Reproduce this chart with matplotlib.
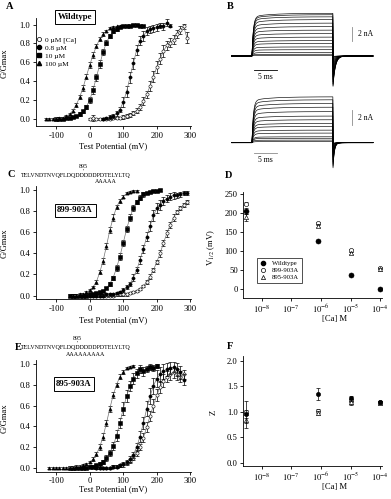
import numpy as np
import matplotlib
matplotlib.use('Agg')
import matplotlib.pyplot as plt
from matplotlib.lines import Line2D
from matplotlib.ticker import NullLocator

plt.rcParams['font.family'] = 'Liberation Serif'
plt.rcParams['mathtext.fontset'] = 'stix'
plt.rcParams['axes.unicode_minus'] = False

W, H = 391, 499

# ---- panel A: wildtype G/V (mV, G/Gmax, error) ----
A_V_100 = np.arange(-130, 100, 10)
A_G_100 = [0.00, 0.00, 0.00, 0.00, 0.01, 0.01, 0.03, 0.05, 0.09, 0.15, 0.23, 0.33, 0.45,
           0.57, 0.68, 0.77, 0.85, 0.90, 0.93, 0.96, 0.97, 0.98, 0.99]
A_E_100 = [0.01, 0.01, 0.01, 0.01, 0.01, 0.01, 0.01, 0.01, 0.02, 0.02, 0.02, 0.03, 0.03,
           0.03, 0.03, 0.02, 0.02, 0.02, 0.01, 0.01, 0.01, 0.01, 0.01]
A_V_10 = np.arange(-100, 170, 10)
A_G_10 = [0.00, 0.00, 0.00, 0.01, 0.01, 0.02, 0.03, 0.05, 0.08, 0.13, 0.20, 0.31, 0.44, 0.58,
          0.71, 0.81, 0.88, 0.93, 0.95, 0.97, 0.98, 0.99, 0.99, 1.00, 1.00, 0.99, 0.99]
A_E_10 = [0.01, 0.01, 0.01, 0.01, 0.01, 0.01, 0.01, 0.02, 0.02, 0.02, 0.03, 0.04, 0.04, 0.04,
          0.03, 0.03, 0.02, 0.02, 0.02, 0.01, 0.01, 0.01, 0.01, 0.01, 0.01, 0.01, 0.01]
A_V_08 = np.arange(40, 250, 10)
A_G_08 = [0.00, 0.01, 0.02, 0.03, 0.06, 0.10, 0.18, 0.29, 0.44, 0.59, 0.73, 0.83, 0.88, 0.93,
          0.95, 0.96, 0.97, 0.99, 0.98, 1.02, 0.99]
A_E_08 = [0.01, 0.01, 0.02, 0.02, 0.03, 0.03, 0.05, 0.06, 0.06, 0.06, 0.05, 0.05, 0.05, 0.04,
          0.04, 0.04, 0.04, 0.03, 0.04, 0.04, 0.02]
A_V_0 = np.arange(0, 300, 10)
A_G_0 = [0.00, 0.01, 0.00, 0.00, 0.00, 0.00, 0.00, 0.01, 0.01, 0.01, 0.02, 0.03, 0.04, 0.06,
         0.09, 0.13, 0.19, 0.26, 0.35, 0.45, 0.55, 0.64, 0.72, 0.78, 0.81, 0.84, 0.90, 0.94,
         0.98, 0.86]
A_E_0 = [0.01, 0.03, 0.01, 0.01, 0.01, 0.01, 0.01, 0.01, 0.01, 0.01, 0.02, 0.02, 0.02, 0.02,
         0.03, 0.03, 0.04, 0.04, 0.05, 0.06, 0.06, 0.06, 0.06, 0.05, 0.05, 0.05, 0.04, 0.04,
         0.03, 0.06]

# ---- panel C: 899-903A ----
C_V_100 = np.arange(-50, 150, 10)
C_G_100 = [0.00, 0.00, 0.01, 0.01, 0.03, 0.05, 0.08, 0.13, 0.22, 0.33, 0.47, 0.62, 0.74, 0.84,
           0.90, 0.94, 0.97, 0.98, 0.99, 0.99]
C_E_100 = [0.01, 0.01, 0.01, 0.01, 0.01, 0.01, 0.01, 0.02, 0.02, 0.03, 0.03, 0.03, 0.03, 0.02,
           0.02, 0.01, 0.01, 0.01, 0.01, 0.01]
C_V_10 = np.arange(-60, 220, 10)
C_G_10 = [0.00, 0.00, 0.00, 0.00, 0.00, 0.00, 0.01, 0.01, 0.02, 0.03, 0.04, 0.07, 0.11, 0.17,
          0.26, 0.37, 0.50, 0.63, 0.74, 0.83, 0.89, 0.93, 0.96, 0.97, 0.98, 0.99, 0.99, 1.00]
C_E_10 = [0.01, 0.01, 0.01, 0.01, 0.01, 0.01, 0.01, 0.01, 0.01, 0.01, 0.01, 0.01, 0.02, 0.02,
          0.03, 0.03, 0.03, 0.03, 0.03, 0.03, 0.02, 0.02, 0.02, 0.01, 0.01, 0.01, 0.01, 0.01]
C_V_08 = np.arange(0, 300, 10)
C_G_08 = [0.00, 0.00, 0.00, 0.00, 0.00, 0.01, 0.01, 0.01, 0.02, 0.03, 0.05, 0.08, 0.11, 0.17,
          0.24, 0.34, 0.44, 0.56, 0.66, 0.76, 0.83, 0.86, 0.90, 0.92, 0.94, 0.95, 0.95, 0.96,
          0.97, 0.97]
C_E_08 = [0.01, 0.01, 0.01, 0.01, 0.01, 0.01, 0.01, 0.01, 0.01, 0.01, 0.02, 0.02, 0.02, 0.03,
          0.03, 0.04, 0.04, 0.04, 0.05, 0.05, 0.05, 0.05, 0.04, 0.03, 0.03, 0.03, 0.02, 0.02,
          0.02, 0.02]
C_V_0 = np.arange(0, 300, 10)
C_G_0 = [0.00, 0.00, 0.00, 0.00, 0.00, 0.00, 0.00, 0.00, 0.01, 0.01, 0.01, 0.01, 0.02, 0.03,
         0.04, 0.06, 0.09, 0.13, 0.18, 0.24, 0.32, 0.40, 0.50, 0.59, 0.67, 0.74, 0.79, 0.83,
         0.86, 0.89]
C_E_0 = [0.01, 0.01, 0.01, 0.01, 0.01, 0.01, 0.01, 0.01, 0.01, 0.01, 0.01, 0.01, 0.01, 0.01,
         0.01, 0.01, 0.01, 0.02, 0.02, 0.02, 0.02, 0.03, 0.03, 0.03, 0.03, 0.03, 0.02, 0.02,
         0.02, 0.02]

# ---- panel E: 895-903A ----
E_V_100 = np.arange(-120, 140, 10)
E_G_100 = [0.00, 0.00, 0.00, 0.00, 0.00, 0.00, 0.00, 0.00, 0.01, 0.01, 0.02, 0.03, 0.05, 0.08,
           0.13, 0.20, 0.30, 0.43, 0.57, 0.70, 0.80, 0.88, 0.92, 0.96, 0.97, 0.98]
E_E_100 = [0.01, 0.01, 0.01, 0.01, 0.01, 0.01, 0.01, 0.01, 0.01, 0.01, 0.01, 0.01, 0.01, 0.02,
           0.02, 0.03, 0.03, 0.03, 0.03, 0.03, 0.02, 0.02, 0.02, 0.01, 0.01, 0.01]
E_V_10 = np.arange(-60, 210, 10)
E_G_10 = [0.00, 0.00, 0.00, 0.00, 0.00, 0.00, 0.01, 0.01, 0.02, 0.03, 0.05, 0.09, 0.14, 0.21,
          0.31, 0.43, 0.57, 0.69, 0.79, 0.86, 0.91, 0.95, 0.93, 0.95, 0.97, 0.96, 0.98]
E_E_10 = [0.01, 0.01, 0.01, 0.01, 0.01, 0.01, 0.01, 0.01, 0.01, 0.02, 0.02, 0.03, 0.03, 0.04,
          0.05, 0.05, 0.06, 0.06, 0.05, 0.05, 0.04, 0.04, 0.04, 0.03, 0.03, 0.03, 0.02]
E_V_08 = np.arange(20, 290, 10)
E_G_08 = [0.00, 0.00, 0.00, 0.00, 0.00, 0.01, 0.01, 0.02, 0.03, 0.05, 0.08, 0.12, 0.20, 0.30,
          0.43, 0.57, 0.69, 0.79, 0.86, 0.90, 0.93, 0.95, 0.96, 0.97, 0.95, 0.92, 0.85]
E_E_08 = [0.01, 0.01, 0.01, 0.01, 0.01, 0.01, 0.01, 0.01, 0.02, 0.02, 0.03, 0.03, 0.04, 0.05,
          0.06, 0.07, 0.08, 0.08, 0.08, 0.07, 0.07, 0.06, 0.06, 0.05, 0.06, 0.06, 0.05]
E_V_0 = np.arange(20, 290, 10)
E_G_0 = [0.00, 0.00, 0.00, 0.00, 0.00, 0.01, 0.01, 0.02, 0.03, 0.04, 0.06, 0.09, 0.14, 0.20,
         0.29, 0.39, 0.50, 0.60, 0.70, 0.78, 0.84, 0.88, 0.90, 0.92, 0.90, 0.88, 0.90]
E_E_0 = [0.01, 0.01, 0.01, 0.01, 0.01, 0.01, 0.01, 0.01, 0.01, 0.02, 0.02, 0.02, 0.03, 0.03,
         0.04, 0.05, 0.05, 0.06, 0.06, 0.06, 0.06, 0.05, 0.05, 0.05, 0.05, 0.05, 0.04]

# ---- panels D / F: V1/2 and Z vs [Ca] ----
CA = [3e-9, 0.8e-6, 1e-5, 1e-4]
D_WT = [204, 127, 37, 1]
D_WT_ERR = [8, 3, 3, 2]
D_899 = [224, 172, 102, 56]
D_899_ERR = [4, 5, 4, 3]
D_895 = [188, 166, 95, 52]
D_895_ERR = [10, 4, 3, 3]
F_WT = [0.95, 1.36, 1.27, 1.19]
F_WT_ERR = [0.27, 0.12, 0.05, 0.03]
F_899 = [0.99, 1.02, 1.21, 1.19]
F_899_ERR = [0.05, 0.04, 0.05, 0.03]
F_895 = [0.84, 0.98, 1.19, 1.17]
F_895_ERR = [0.05, 0.04, 0.06, 0.03]

# ---- panel B: current traces (nA) ----
B_T_ON, B_T_OFF, B_T_END = 4.4, 22.0, 30.7
B_TOP_LEVELS = [6.1, 5.9, 5.6, 5.2, 4.7, 4.2, 3.7, 3.2, 2.7, 2.2, 1.8, 1.3, 0.9, 0.5, 0.25, 0.1]
B_BOT_LEVELS = [6.2, 5.8, 5.3, 4.8, 4.2, 3.6, 3.1, 2.6, 2.2, 1.7, 1.3, 0.8, 0.6, 0.35, 0.15]
B_TOP_TAIL = 0.75
B_BOT_TAIL = 0.6

fig = plt.figure(figsize=(W / 100, H / 100), dpi=100)


def px_axes(x0, y0, x1, y1):
    return fig.add_axes([x0 / W, 1 - y1 / H, (x1 - x0) / W, (y1 - y0) / H])


def px_text(x, y, s, **kw):
    return fig.text(x / W, 1 - y / H, s, **kw)


def style(ax):
    for side in ('top', 'right'):
        ax.spines[side].set_visible(False)
    for side in ('left', 'bottom'):
        ax.spines[side].set_linewidth(0.6)
    ax.tick_params(direction='out', length=2.5, width=0.6, labelsize=6.2, pad=1.5)


def gv_series(ax, v, g, e, marker, open_):
    ax.errorbar(v, g, yerr=e, fmt='none', ecolor='k', elinewidth=0.5, capsize=1.2, capthick=0.5)
    ax.plot(v, g, color='0.45', lw=0.5)
    ax.plot(v, g, ls='none', marker=marker, ms=2.3, mec='k', mew=0.4,
            mfc='white' if open_ else 'k')


def gv_panel(rect, series, ylim):
    ax = px_axes(*rect)
    style(ax)
    for v, g, e, m, o in series:
        gv_series(ax, v, g, e, m, o)
    ax.set_xlim(-160, 302)
    ax.set_ylim(*ylim)
    ax.set_xticks([-100, 0, 100, 200, 300])
    ax.set_yticks([0, 0.2, 0.4, 0.6, 0.8, 1.0])
    ax.set_yticklabels(['0.0', '0.2', '0.4', '0.6', '0.8', '1.0'])
    return ax


# A
axA = gv_panel((36, 18, 191, 126), [
    (A_V_0, A_G_0, A_E_0, 'o', True),
    (A_V_08, A_G_08, A_E_08, 'o', False),
    (A_V_10, A_G_10, A_E_10, 's', False),
    (A_V_100, A_G_100, A_E_100, '^', False)], (-0.074, 1.07))
handles = [Line2D([], [], ls='none', marker='o', ms=3, mec='k', mfc='white', mew=0.5),
           Line2D([], [], ls='none', marker='o', ms=3, mec='k', mfc='k'),
           Line2D([], [], ls='none', marker='s', ms=3, mec='k', mfc='k'),
           Line2D([], [], ls='none', marker='^', ms=3, mec='k', mfc='k')]
axA.legend(handles, ['0 \u00b5M [Ca]', '0.8 \u00b5M', '10 \u00b5M', '100 \u00b5M'],
           loc='upper left', bbox_to_anchor=(0.0, 0.83), frameon=False, fontsize=5.3,
           handlelength=0.8, handletextpad=0.4, labelspacing=0.25, borderaxespad=0, borderpad=0)

# C
gv_panel((36, 186, 191, 299), [
    (C_V_0, C_G_0, C_E_0, 'o', True),
    (C_V_08, C_G_08, C_E_08, 'o', False),
    (C_V_10, C_G_10, C_E_10, 's', False),
    (C_V_100, C_G_100, C_E_100, '^', False)], (-0.033, 1.04))

# E
gv_panel((36, 360, 191, 471.7), [
    (E_V_0, E_G_0, E_E_0, 'o', True),
    (E_V_08, E_G_08, E_E_08, 'o', False),
    (E_V_10, E_G_10, E_E_10, 's', False),
    (E_V_100, E_G_100, E_E_100, '^', False)], (-0.04, 1.04))


def ca_panel(rect, ylim, yticks, fmt):
    ax = px_axes(*rect)
    style(ax)
    ax.set_xscale('log')
    ax.set_xlim(10 ** -8.62, 10 ** -3.95)
    ax.set_xticks([1e-8, 1e-7, 1e-6, 1e-5, 1e-4])
    ax.set_xticklabels(['$10^{-8}$', '$10^{-7}$', '$10^{-6}$', '$10^{-5}$', '$10^{-4}$'])
    ax.xaxis.set_minor_locator(NullLocator())
    ax.tick_params(axis='x', labelsize=6.2, pad=1.2)
    ax.set_ylim(*ylim)
    ax.set_yticks(yticks)
    ax.set_yticklabels([fmt % t for t in yticks])
    return ax


def ca_series(ax, y, err, marker, open_, ms=3.0):
    ax.errorbar(CA, y, yerr=err, fmt='none', ecolor='k', elinewidth=0.5, capsize=1.5, capthick=0.5)
    ax.plot(CA, y, ls='none', marker=marker, ms=ms, mec='k', mew=0.45,
            mfc='white' if open_ else 'k')


# D
axD = ca_panel((243.3, 191.7, 381.7, 298), (-22.7, 255), [0, 50, 100, 150, 200, 250], '%d')
ca_series(axD, D_899, D_899_ERR, 'o', True)
ca_series(axD, D_895, D_895_ERR, '^', True)
ca_series(axD, D_WT, D_WT_ERR, 'o', False, ms=3.6)
dh = [Line2D([], [], ls='none', marker='o', ms=3, mec='k', mfc='k'),
      Line2D([], [], ls='none', marker='o', ms=3, mec='k', mfc='white', mew=0.5),
      Line2D([], [], ls='none', marker='^', ms=3, mec='k', mfc='white', mew=0.5)]
legD = axD.legend(dh, ['Wildtype', '899-903A', '895-903A'], loc='lower left',
                  bbox_to_anchor=(0.1, 0.14), fontsize=4.8, frameon=True, fancybox=False,
                  edgecolor='k', borderpad=0.4, handlelength=1.0, handletextpad=0.8,
                  labelspacing=0.2, borderaxespad=0)
legD.get_frame().set_linewidth(0.6)

# F
axF = ca_panel((243.3, 356, 381.7, 466), (-0.064, 2.1), [0, 0.5, 1.0, 1.5, 2.0], '%.1f')
ca_series(axF, F_899, F_899_ERR, 'o', True)
ca_series(axF, F_895, F_895_ERR, '^', True)
ca_series(axF, F_WT, F_WT_ERR, 'o', False)

# B traces
t = np.linspace(0, B_T_END, 900)


def trace(level, tail_ratio, tau_tail):
    i = np.zeros_like(t)
    on = (t >= B_T_ON) & (t < B_T_OFF)
    dt = t[on] - B_T_ON
    i[on] = level * (0.92 * (1 - np.exp(-dt / 0.3)) + 0.08 * (1 - np.exp(-dt / 4.0)))
    off = t >= B_T_OFF
    i[off] = -tail_ratio * level * np.exp(-(t[off] - B_T_OFF) / tau_tail)
    return i


axBt = px_axes(225, 5, 380, 95)
axBt.set_xlim((225 - 231.7) / 4.6, (380 - 231.7) / 4.6)
axBt.set_ylim((56 - 95) / 7.0, (56 - 5) / 7.0)
axBt.axis('off')
for lv in B_TOP_LEVELS:
    axBt.plot(t, trace(lv, B_TOP_TAIL, 0.5), color='k', lw=0.45)
axBt.plot([26.2, 26.2], [2.14, 4.14], color='0.55', lw=0.6)
axBt.text(27.4, 3.14, '2 nA', fontsize=5.5, va='center', ha='left')
axBt.plot([4.85, 9.85], [-2.0, -2.0], color='k', lw=0.6)
axBt.text(7.35, -2.4, '5 ms', fontsize=5.5, va='top', ha='center')

axBb = px_axes(225, 90, 380, 178)
axBb.set_xlim((225 - 231.7) / 4.6, (380 - 231.7) / 4.6)
axBb.set_ylim((142.7 - 178) / 7.4, (142.7 - 90) / 7.4)
axBb.axis('off')
for lv in B_BOT_LEVELS:
    axBb.plot(t, trace(lv, B_BOT_TAIL, 0.3), color='k', lw=0.45)
axBb.plot([26.2, 26.2], [2.39, 4.42], color='0.55', lw=0.6)
axBb.text(27.4, 3.4, '2 nA', fontsize=5.5, va='center', ha='left')
axBb.plot([4.85, 9.85], [-1.39, -1.39], color='0.55', lw=0.6)
axBb.text(7.35, -1.8, '5 ms', fontsize=5.5, va='top', ha='center')

# labels
for x, y, s in [(6, 2, 'A'), (227, 2, 'B'), (7, 170, 'C'), (225, 171, 'D'), (15, 343, 'E'),
                (227, 342, 'F')]:
    px_text(x, y, s, fontsize=7.5, fontweight='bold', va='top', ha='left')

for y in (63, 243, 418):
    px_text(5, y, 'G/Gmax', fontsize=6.2, rotation=90, va='center', ha='center')
for y in (146, 320, 489):
    px_text(113, y, 'Test Potential (mV)', fontsize=6.2, va='center', ha='center')
px_text(211, 248, 'V$_{1/2}$ (mV)', fontsize=6.2, rotation=90, va='center', ha='center')
px_text(214, 412, 'Z', fontsize=6.2, rotation=90, va='center', ha='center')
px_text(335, 319, '[Ca] M', fontsize=6.2, va='center', ha='center')
px_text(335, 487, '[Ca] M', fontsize=6.2, va='center', ha='center')

box = dict(boxstyle='square,pad=0.3', fc='white', ec='k', lw=0.7)
px_text(75, 17, 'Wildtype', fontsize=6.3, fontweight='bold', va='center', ha='center', bbox=box)
px_text(75, 210.5, '899-903A', fontsize=6.3, fontweight='bold', va='center', ha='center', bbox=box)
px_text(74, 384, '895-903A', fontsize=6.3, fontweight='bold', va='center', ha='center', bbox=box)

SEQ = 'TELVNDTNVQFLDQDDDDDPDTELYLTQ'
for y0, ax_x, ala, ala_x in [(166, 83, 'AAAAA', 106), (339, 77, 'AAAAAAAAA', 86)]:
    px_text(ax_x, y0, '895', fontsize=4.3, va='center', ha='center')
    px_text(ax_x, y0 + 4.5, "'", fontsize=4.3, va='center', ha='center')
    px_text(76, y0 + 9, SEQ, fontsize=4.3, va='center', ha='center')
    px_text(ala_x, y0 + 16, ala, fontsize=4.3, va='center', ha='center')

fig.savefig('out.png', dpi=100)
